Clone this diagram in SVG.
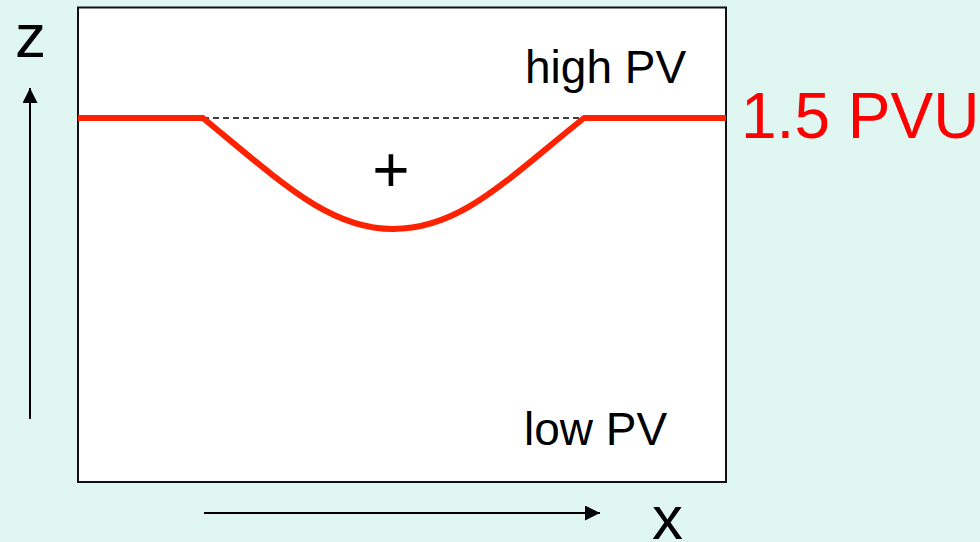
<svg xmlns="http://www.w3.org/2000/svg" width="980" height="542" viewBox="0 0 980 542">
  <style>
    .lbl { font-family: "Liberation Sans", Arial, sans-serif; fill: #000; }
    .axis { stroke: #000; stroke-width: 2; fill: none; }
    .pv { stroke: #FF2200; stroke-width: 6; fill: none; stroke-linejoin: round; }
  </style>
  <defs>
    <marker id="arrow" viewBox="0 0 15 15" refX="15" refY="7.5" markerWidth="15" markerHeight="15" markerUnits="userSpaceOnUse" orient="auto">
      <path d="M0,0 L15,7.5 L0,15 Z" fill="#000"/>
    </marker>
  </defs>
  <rect width="980" height="542" fill="#E0F6F1"/>
  <g id="frame">
    <rect x="78" y="7.5" width="648" height="474.5" fill="#FFFFFF" stroke="#111" stroke-width="2"/>
  </g>
  <g id="connectors">
    <line class="axis" x1="30" y1="419" x2="30" y2="88" marker-end="url(#arrow)"/>
    <line class="axis" x1="204" y1="513" x2="600" y2="513" marker-end="url(#arrow)"/>
  </g>
  <g id="tropopause">
    <line x1="203" y1="118" x2="584" y2="118" stroke="#000" stroke-width="1.5" stroke-dasharray="6,4"/>
    <path class="pv" d="M78,118 H203 C283,184 330,229 393,229 C460,229 504,182 584,118 H726"/>
  </g>
  <g id="labels">
    <text class="lbl" x="15" y="57" font-size="62">z</text>
    <text class="lbl" x="652" y="539" font-size="62">x</text>
    <text class="lbl" x="525" y="83" font-size="46">high PV</text>
    <text class="lbl" x="524" y="445" font-size="46">low PV</text>
    <text class="lbl" x="391" y="192" font-size="64" text-anchor="middle">+</text>
    <text x="741" y="138" font-size="64" font-family="'Liberation Sans', Arial, sans-serif" fill="#FF0000">1.5 PVU</text>
  </g>
</svg>
